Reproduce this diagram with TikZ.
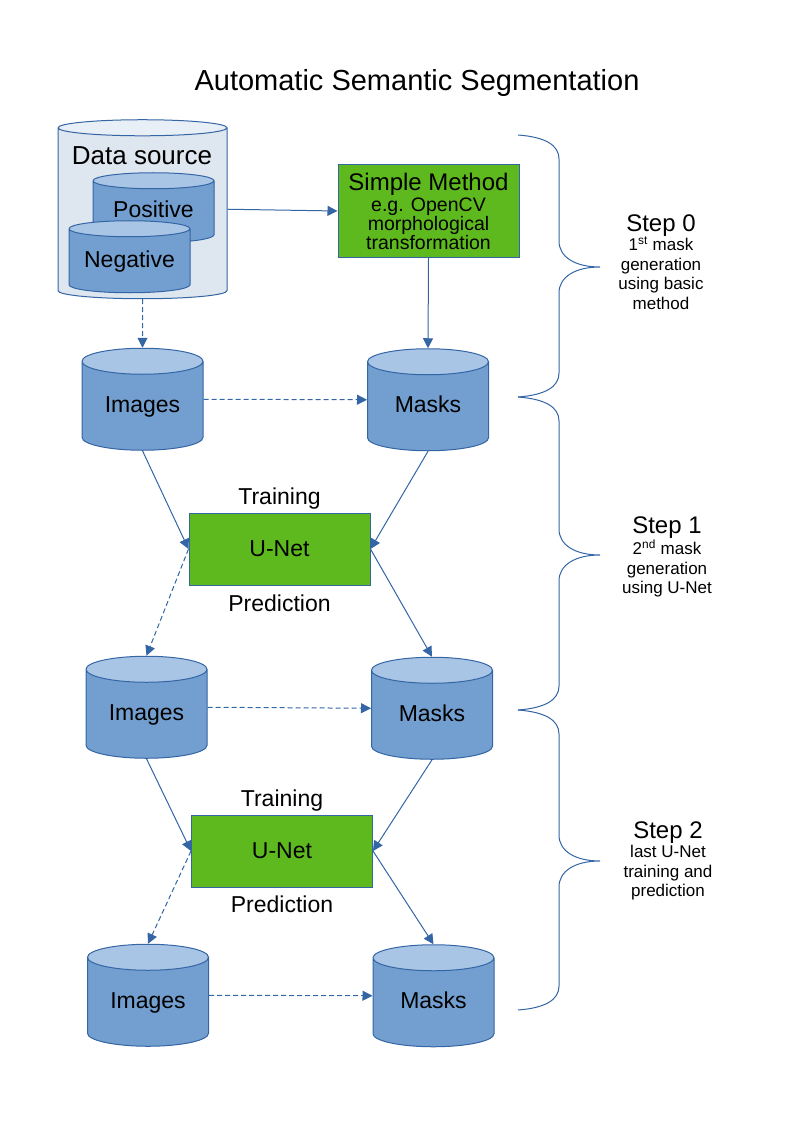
\documentclass[tikz,border=0pt]{standalone}
\usepackage{fontspec}
\setmainfont{Liberation Sans}
\usetikzlibrary{shapes.geometric,arrows.meta,positioning}
\definecolor{cylbody}{HTML}{729FCF}
\definecolor{cyltop}{HTML}{A9C5E6}
\definecolor{cylline}{HTML}{3465A4}
\definecolor{srcbody}{HTML}{DEE6EF}
\definecolor{srctop}{HTML}{E9EFF6}
\definecolor{boxgreen}{HTML}{5EB91E}

\tikzset{
  db/.style={cylinder, shape border rotate=90, aspect=0.26, draw=cylline,
             line width=1pt, cylinder uses custom fill,
             cylinder body fill=cylbody, cylinder end fill=cyltop,
             text width=100pt, text height=17pt, text depth=5pt, align=center,
             minimum width=121pt, minimum height=102pt, inner sep=0pt,
             font=\fontsize{23}{23}\selectfont},
  unet/.style={rectangle, draw=cylline, fill=boxgreen, line width=1pt,
               minimum width=181pt, minimum height=72pt,
               font=\fontsize{23}{23}\selectfont},
  flow/.style={draw=cylline, line width=1pt, -{Triangle[length=10pt,width=10pt]}},
  dflow/.style={flow, dash pattern=on 5pt off 3pt},
  steptext/.style={align=center, font=\fontsize{17}{19.5}\selectfont},
  every label/.style={font=\fontsize{23}{23}\selectfont},
}

\begin{document}
\begin{tikzpicture}[x=1pt, y=-1pt]
  \useasboundingbox (0,0) rectangle (794,1123);

  \node (title) at (417,83) {\fontsize{29}{29}\selectfont Automatic Semantic Segmentation};

  % data source
  \node[db, cylinder body fill=srcbody, cylinder end fill=srctop, text width=150pt,
        minimum width=169pt, minimum height=179pt, aspect=0.107] (src) at (142.5,213.5) {};
  \node[font=\fontsize{26}{26}\selectfont] (srcname) at (142,156) {Data source};
  \node[db, minimum height=70pt, aspect=0.16] (pos) at (153.5,212) {Positive};
  \node[db, minimum height=72pt, aspect=0.16] (neg) at (129.5,261) {Negative};

  \node[unet, minimum height=93pt, align=center, font=\fontsize{19.5}{19}\selectfont] (simple) at (428.5,211)
    {{\fontsize{24}{24}\selectfont Simple Method}\\[2pt] e.g. OpenCV\\ morphological\\ transformation};

  % step 0 -> 1
  \node[db] (img1) at (142.5,406) {Images};
  \node[db] (msk1) at (428,406.5) {Masks};
  \node[unet, label={[label distance=0pt]above:Training},
        label={[label distance=6pt]below:Prediction}] (unet1) at (279.5,549) {U-Net};

  % step 1 -> 2
  \node[db] (img2) at (146.5,714) {Images};
  \node[db] (msk2) at (432,715) {Masks};
  \node[unet, label={[label distance=0pt]above:Training},
        label={[label distance=5pt]below:Prediction}] (unet2) at (282,851) {U-Net};

  % step 2
  \node[db] (img3) at (148,1002) {Images};
  \node[db] (msk3) at (433.5,1002.5) {Masks};

  \draw[flow] (src.shape center -| src.east) -- (simple.west);
  \draw[dflow] (src.south) -- (img1.north);
  \draw[flow] (simple.south) -- (msk1.north);
  \draw[dflow] (img1.shape center -| img1.east) -- (msk1.shape center -| msk1.west);
  \draw[flow] (img1.south) -- (unet1.west);
  \draw[flow] (msk1.south) -- (unet1.east);
  \draw[dflow] (unet1.west) -- (img2.north);
  \draw[flow] (unet1.east) -- (msk2.north);
  \draw[dflow] (img2.shape center -| img2.east) -- (msk2.shape center -| msk2.west);
  \draw[flow] (img2.south) -- (unet2.west);
  \draw[flow] (msk2.south) -- (unet2.east);
  \draw[dflow] (unet2.west) -- (img3.north);
  \draw[flow] (unet2.east) -- (msk3.north);
  \draw[dflow] (img3.shape center -| img3.east) -- (msk3.shape center -| msk3.west);

  % braces
  \foreach \ya/\ym/\yb in {135/267/397, 397/555/710, 710/861/1010}
    \draw[cylline, line width=1pt] (518,\ya) .. controls (545,\ya+2) and (559,\ya+10) .. (559,\ya+24)
      -- (559,\ym-26) .. controls (559,\ym-10) and (575,\ym) .. (600,\ym)
      .. controls (575,\ym) and (559,\ym+10) .. (559,\ym+26)
      -- (559,\yb-24) .. controls (559,\yb-10) and (545,\yb-2) .. (518,\yb);

  \node[steptext] (step0) at (661,262)
    {{\fontsize{24}{24}\selectfont Step 0}\\ 1\textsuperscript{st} mask\\ generation\\ using basic\\ method};
  \node[steptext] (step1) at (667,557)
    {{\fontsize{24}{24}\selectfont Step 1}\\ 2\textsuperscript{nd} mask\\ generation\\ using U-Net};
  \node[steptext] (step2) at (668,861)
    {{\fontsize{24}{24}\selectfont Step 2}\\ last U-Net\\ training and\\ prediction};
\end{tikzpicture}
\end{document}
